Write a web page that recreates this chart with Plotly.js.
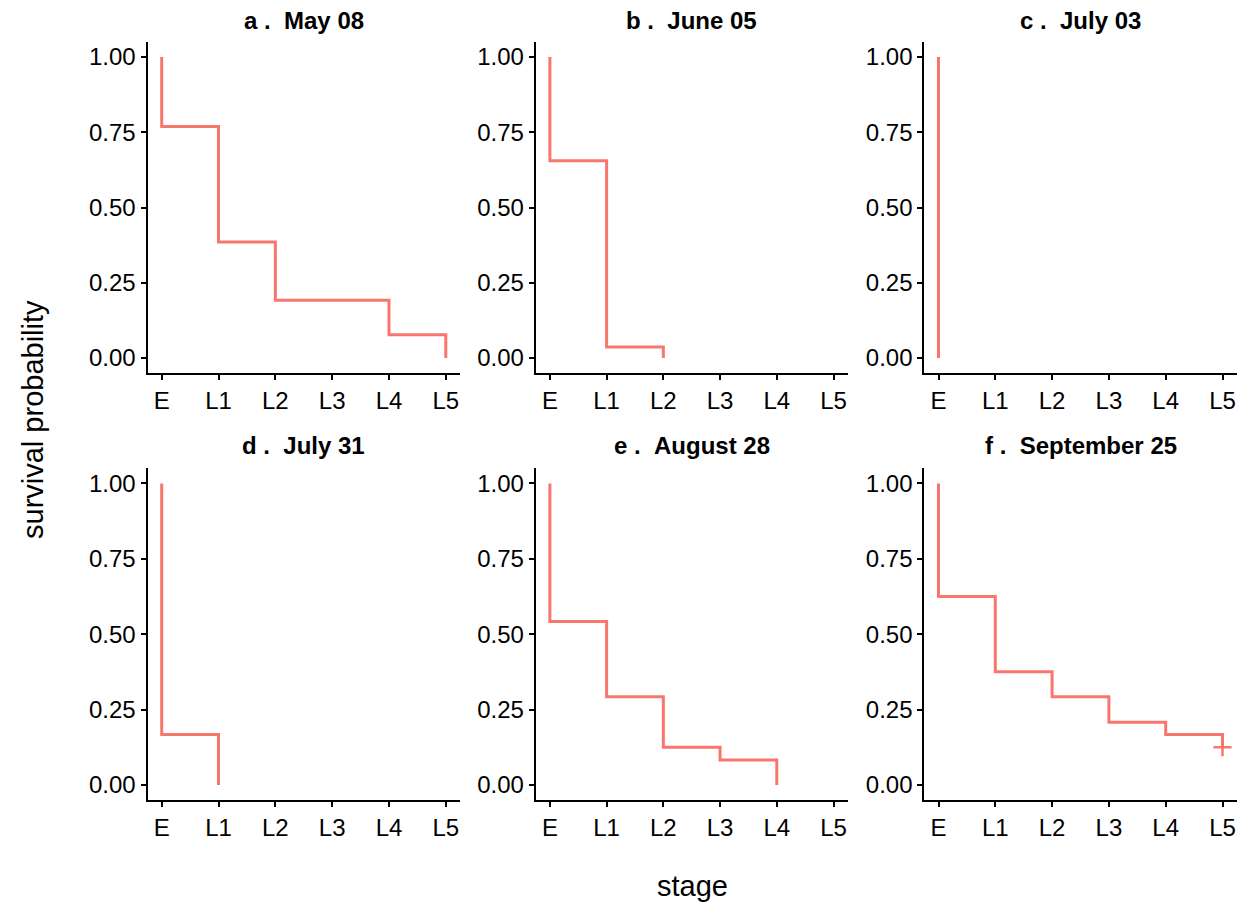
<!DOCTYPE html>
<html>
<head>
<meta charset="utf-8">
<script src="https://cdn.plot.ly/plotly-3.0.1.min.js"></script>
<style>html,body{margin:0;padding:0;background:#fff;}#chart{width:1252px;height:914px;}</style>
</head>
<body>
<div id="chart"></div>
<script>
// Stage labels
const stageLabels = ["E", "L1", "L2", "L3", "L4", "L5"];
const yTickVals = [0, 0.25, 0.5, 0.75, 1];
const yTickText = ["0.00", "0.25", "0.50", "0.75", "1.00"];

// Panel titles
const panelTitles = ["a .&nbsp;&nbsp;May 08", "b .&nbsp;&nbsp;June 05", "c .&nbsp;&nbsp;July 03",
                     "d .&nbsp;&nbsp;July 31", "e .&nbsp;&nbsp;August 28", "f .&nbsp;&nbsp;September 25"];

// Kaplan-Meier step data (stage index, survival probability)
const stageA = [0, 0, 1, 2, 4, 5];
const survA  = [1, 0.769, 0.385, 0.192, 0.077, 0];

const stageB = [0, 0, 1, 2];
const survB  = [1, 0.655, 0.036, 0];

const stageC = [0, 0];
const survC  = [1, 0];

const stageD = [0, 0, 1];
const survD  = [1, 0.167, 0];

const stageE = [0, 0, 1, 2, 3, 4];
const survE  = [1, 0.542, 0.292, 0.125, 0.083, 0];

const stageF = [0, 0, 1, 2, 3, 4, 5];
const survF  = [1, 0.625, 0.375, 0.292, 0.208, 0.167, 0.125];

// Censored observation (panel f)
const censorStageF = [5];
const censorSurvF  = [0.125];

const panels = [
  [stageA, survA], [stageB, survB], [stageC, survC],
  [stageD, survD], [stageE, survE], [stageF, survF]
];

const lineColor = "#F8766D";
const W = 1252, H = 914;
const colPx = [[147.5, 460], [535.7, 847.7], [924.3, 1236.7]];
const rowPx = [[42, 373], [468.3, 800]];

const traces = [];
const layout = {
  width: W, height: H,
  margin: {l: 0, r: 0, t: 0, b: 0},
  paper_bgcolor: "#ffffff",
  plot_bgcolor: "#ffffff",
  showlegend: false,
  font: {family: "Liberation Sans, Arial, sans-serif", color: "#000000"},
  annotations: []
};

panels.forEach((p, i) => {
  const n = i + 1;
  const suffix = n === 1 ? "" : String(n);
  const col = i % 3, row = Math.floor(i / 3);
  traces.push({
    type: "scatter", mode: "lines",
    x: p[0], y: p[1],
    line: {shape: "hv", color: lineColor, width: 3},
    xaxis: "x" + suffix, yaxis: "y" + suffix,
    hoverinfo: "x+y"
  });
  const xd = [colPx[col][0] / W, colPx[col][1] / W];
  const yd = [1 - rowPx[row][1] / H, 1 - rowPx[row][0] / H];
  layout["xaxis" + suffix] = {
    domain: xd, anchor: "y" + suffix,
    range: [-0.25, 5.25],
    tickvals: [0, 1, 2, 3, 4, 5], ticktext: stageLabels,
    showgrid: false, zeroline: false,
    showline: true, linecolor: "#000000", linewidth: 2,
    ticks: "outside", ticklen: 5, tickwidth: 2, tickcolor: "#000000",
    tickfont: {size: 24, color: "#000000"}
  };
  layout["yaxis" + suffix] = {
    domain: yd, anchor: "x" + suffix,
    range: [-0.05, 1.05],
    tickvals: yTickVals, ticktext: yTickText,
    showgrid: false, zeroline: false,
    showline: true, linecolor: "#000000", linewidth: 2,
    ticks: "outside", ticklen: 5, tickwidth: 2, tickcolor: "#000000",
    tickfont: {size: 24, color: "#000000"}
  };
  layout.annotations.push({
    text: "<b>" + panelTitles[i] + "</b>",
    xref: "paper", yref: "paper",
    x: (xd[0] + xd[1]) / 2,
    y: row === 0 ? 1 - 21 / H : 1 - 446 / H,
    xanchor: "center", yanchor: "middle",
    showarrow: false,
    font: {size: 24, color: "#000000"}
  });
});

// Censor mark in panel f
traces.push({
  type: "scatter", mode: "markers",
  x: censorStageF, y: censorSurvF,
  marker: {symbol: "cross-thin-open", size: 13, line: {color: lineColor, width: 2.5}, color: lineColor},
  xaxis: "x6", yaxis: "y6", hoverinfo: "x+y"
});

// Shared axis titles
layout.annotations.push({
  text: "survival probability",
  xref: "paper", yref: "paper",
  x: 33 / W, y: 1 - 420 / H,
  xanchor: "center", yanchor: "middle",
  textangle: -90, showarrow: false,
  font: {size: 29, color: "#000000"}
});
layout.annotations.push({
  text: "stage",
  xref: "paper", yref: "paper",
  x: 692 / W, y: 1 - 886 / H,
  xanchor: "center", yanchor: "middle",
  showarrow: false,
  font: {size: 29, color: "#000000"}
});

Plotly.newPlot("chart", traces, layout, {displayModeBar: false, staticPlot: true});
</script>
</body>
</html>
